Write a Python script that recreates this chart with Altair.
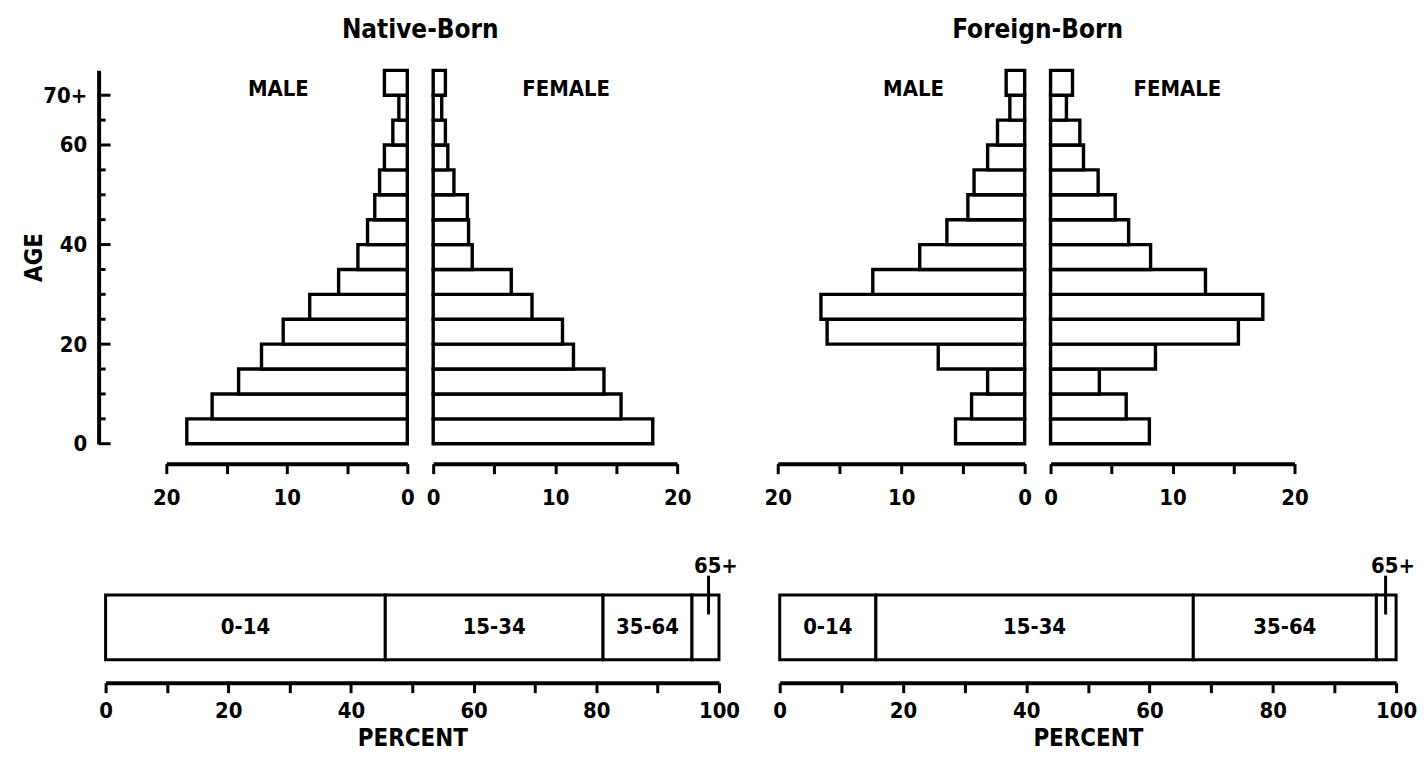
import altair as alt
import pandas as pd

# ---------------- data ----------------
AGE_START = [0, 5, 10, 15, 20, 25, 30, 35, 40, 45, 50, 55, 60, 65, 70]
AGE_GROUPS = ["0-4", "5-9", "10-14", "15-19", "20-24", "25-29", "30-34", "35-39",
              "40-44", "45-49", "50-54", "55-59", "60-64", "65-69", "70+"]
NATIVE_MALE = [18.3, 16.2, 14.0, 12.1, 10.3, 8.1, 5.7, 4.1, 3.3, 2.7, 2.3, 1.9, 1.2, 0.7, 1.9]
NATIVE_FEMALE = [18.0, 15.4, 14.0, 11.5, 10.6, 8.1, 6.4, 3.2, 2.9, 2.8, 1.7, 1.2, 1.0, 0.7, 1.0]
FOREIGN_MALE = [5.6, 4.3, 3.0, 7.0, 16.0, 16.5, 12.3, 8.5, 6.3, 4.6, 4.1, 3.0, 2.2, 1.2, 1.5]
FOREIGN_FEMALE = [8.1, 6.2, 4.0, 8.6, 15.4, 17.4, 12.7, 8.2, 6.4, 5.3, 3.9, 2.7, 2.4, 1.3, 1.8]

BROAD_GROUPS = ["0-14", "15-34", "35-64", "65+"]
NATIVE_SHARE = [45.6, 35.5, 14.5, 4.4]
FOREIGN_SHARE = [15.6, 51.5, 29.7, 3.2]

PYR_TICKS = [0, 5, 10, 15, 20]
AGE_TICKS = [0, 5, 10, 15, 20, 25, 30, 35, 40, 45, 50, 55, 60, 65, 70]
AGE_LABEL_VALUES = [0, 20, 40, 60, 70]
PCT_TICKS = [0, 10, 20, 30, 40, 50, 60, 70, 80, 90, 100]

FONT = "DejaVu Sans Condensed, Liberation Sans Narrow, DejaVu Sans, sans-serif"
PYR_H = 375
AGE_DOMAIN = [0, 75]


def pyramid(values, side, width, label, label_x):
    df = pd.DataFrame({"start": AGE_START, "end": [a + 5 for a in AGE_START],
                       "pct": values, "group": AGE_GROUPS})
    domain = [20, 0] if side == "male" else [0, 20]
    xaxis = alt.Axis(values=PYR_TICKS,
                     labelExpr="datum.value % 10 === 0 ? datum.label : ''",
                     title=None, offset=20, tickSize=10, labelPadding=14)
    xs = alt.Scale(domain=domain, nice=False)
    ys = alt.Scale(domain=AGE_DOMAIN, nice=False)
    bars = alt.Chart(df).mark_rect(fill="white", stroke="black", strokeWidth=3.4).encode(
        x=alt.X("pct:Q", scale=xs, axis=xaxis),
        x2=alt.X2(datum=0),
        y=alt.Y("start:Q", scale=ys, axis=None),
        y2="end:Q",
    )
    lab = alt.Chart(pd.DataFrame({"t": [label]})).mark_text(
        font=FONT, fontSize=22, fontWeight="bold", color="black"
    ).encode(x=alt.X(datum=label_x), y=alt.Y(datum=71.2), text="t:N")
    return alt.layer(bars, lab).properties(width=width, height=PYR_H)


def age_panel(width):
    tick_df = pd.DataFrame({"age": AGE_TICKS})
    ys = alt.Scale(domain=AGE_DOMAIN, nice=False)
    yaxis = alt.Axis(values=AGE_LABEL_VALUES,
                     labelExpr="datum.value === 70 ? '70+' : datum.label",
                     ticks=False, title="AGE", offset=7, labelPadding=12,
                     titlePadding=-4)
    major = alt.Chart(tick_df).transform_filter(
        "datum.age % 20 === 0 || datum.age === 70"
    ).mark_rule(color="black", strokeWidth=3).encode(
        y=alt.Y("age:Q", scale=ys, axis=yaxis), x=alt.value(-7), x2=alt.value(5))
    minor = alt.Chart(tick_df).transform_filter(
        "!(datum.age % 20 === 0 || datum.age === 70)"
    ).mark_rule(color="black", strokeWidth=3).encode(
        y=alt.Y("age:Q", scale=ys, axis=yaxis), x=alt.value(-7), x2=alt.value(0))
    return alt.layer(major, minor).properties(width=width, height=PYR_H)


def spacer(width, height, title=None):
    if title is None:
        c = alt.Chart(pd.DataFrame({"a": [0]})).mark_point(opacity=0).encode(
            x=alt.X("a:Q", axis=None), y=alt.Y("a:Q", axis=None))
    else:
        c = alt.Chart(pd.DataFrame({"t": [title]})).mark_text(
            font=FONT, fontSize=26, fontWeight="bold", color="black"
        ).encode(
            x=alt.X(datum=0.5, scale=alt.Scale(domain=[0, 1]), axis=None),
            y=alt.Y(datum=83, scale=alt.Scale(domain=AGE_DOMAIN, nice=False), axis=None),
            text="t:N",
        )
    return c.properties(width=width, height=height)


def broad_panel(shares, width, label_x, pointer_x):
    starts, ends, acc = [], [], 0.0
    for s in shares:
        starts.append(acc)
        acc += s
        ends.append(acc)
    df = pd.DataFrame({"group": BROAD_GROUPS, "start": starts, "end": ends})
    df["mid"] = (df["start"] + df["end"]) / 2
    xs = alt.Scale(domain=[0, 100], nice=False)
    ys = alt.Scale(domain=[0, 1], nice=False)
    xaxis = alt.Axis(values=PCT_TICKS,
                     labelExpr="datum.value % 20 === 0 ? datum.label : ''",
                     title="PERCENT", offset=23, tickSize=10, labelPadding=8,
                     titlePadding=5)
    base = alt.Chart(df)
    bars = base.mark_rect(fill="white", stroke="black", strokeWidth=3).encode(
        x=alt.X("start:Q", scale=xs, axis=xaxis),
        x2="end:Q",
        y=alt.Y(datum=0, scale=ys, axis=None),
        y2=alt.Y2(datum=1),
    )
    inside = base.transform_filter("datum.group !== '65+'").mark_text(
        font=FONT, fontSize=22, fontWeight="bold", color="black"
    ).encode(x="mid:Q", y=alt.Y(datum=0.5), text="group:N")
    outside = base.transform_filter("datum.group === '65+'").mark_text(
        font=FONT, fontSize=22, fontWeight="bold", color="black"
    ).encode(x=alt.X(datum=label_x), y=alt.Y(datum=1.45), text="group:N")
    pointer = base.transform_filter("datum.group === '65+'").mark_rule(
        color="black", strokeWidth=3
    ).encode(x=alt.X(datum=pointer_x), y=alt.Y(datum=1.3), y2=alt.Y2(datum=0.7))
    return alt.layer(bars, inside, outside, pointer).properties(width=width, height=65)


top = alt.hconcat(
    age_panel(61),
    pyramid(NATIVE_MALE, "male", 242, "MALE", 10.7),
    spacer(26, PYR_H, "Native-Born"),
    pyramid(NATIVE_FEMALE, "female", 245, "FEMALE", 10.9),
    spacer(101, PYR_H),
    pyramid(FOREIGN_MALE, "male", 248, "MALE", 9.0),
    spacer(26, PYR_H, "Foreign-Born"),
    pyramid(FOREIGN_FEMALE, "female", 245, "FEMALE", 10.4),
    spacing=0, bounds="flush",
)

bottom = alt.hconcat(
    broad_panel(NATIVE_SHARE, 616, 99.5, 98.3),
    spacer(61, 65),
    broad_panel(FOREIGN_SHARE, 619, 99.5, 98.3),
    spacing=0, bounds="flush",
)

chart = alt.vconcat(top, bottom, spacing=46).properties(
    padding={"left": 14, "top": 7, "right": 0, "bottom": 0}
).configure_view(stroke=None).configure_axis(
    domainColor="black", domainWidth=4, tickColor="black", tickWidth=3,
    labelFont=FONT, labelFontSize=22, labelFontWeight="bold", labelColor="black",
    titleFont=FONT, titleFontSize=24, titleFontWeight="bold", titleColor="black",
    grid=False, labelOverlap=False, labelFlush=False,
).configure_title(font=FONT, color="black")

chart.save("out.html", embed_options={"renderer": "svg", "actions": False})
